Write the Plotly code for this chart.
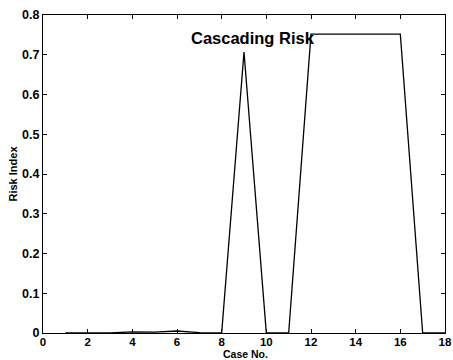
import plotly.graph_objects as go

case_no = list(range(1, 19))
risk_index = [0, 0, 0, 0.003, 0.002, 0.005, 0.001, 0, 0.707, 0, 0, 0.752, 0.752, 0.752, 0.752, 0.752, 0, 0]
x_ticks = [0, 2, 4, 6, 8, 10, 12, 14, 16, 18]
y_ticks = [0, 0.1, 0.2, 0.3, 0.4, 0.5, 0.6, 0.7, 0.8]
y_tick_labels = ["0", "0.1", "0.2", "0.3", "0.4", "0.5", "0.6", "0.7", "0.8"]

font = "Liberation Sans, Arial, sans-serif"

fig = go.Figure()
fig.add_trace(go.Scatter(x=case_no, y=risk_index, mode="lines",
                         line=dict(color="black", width=1.3), showlegend=False,
                         cliponaxis=False))

axis_common = dict(showgrid=False, zeroline=False, showline=True, linecolor="black",
                   linewidth=1.3, mirror="ticks", ticks="inside", ticklen=4,
                   tickcolor="black", tickwidth=1, automargin=False)

fig.update_xaxes(range=[0, 18], tickvals=x_ticks, ticktext=[str(t) for t in x_ticks],
                 tickfont=dict(family=font, size=11.5, color="black", weight="bold"),
                 ticklabelstandoff=-2,
                 **axis_common)
fig.update_yaxes(range=[0, 0.8], tickvals=y_ticks, ticktext=y_tick_labels,
                 tickfont=dict(family=font, size=12.5, color="black", weight="bold"),
                 title=dict(text="<b>Risk Index</b>", font=dict(family=font, size=11, color="black"), standoff=2),
                 **axis_common)

fig.add_annotation(text="<b>Case No.</b>", xref="paper", yref="paper",
                   x=(245 - 43) / 402, y=(333 - 354) / 318, xanchor="center", yanchor="middle",
                   showarrow=False, font=dict(family=font, size=10.5, color="black"))

fig.add_annotation(text="<b>Cascading Risk</b>", xref="paper", yref="paper",
                   x=(253 - 43) / 402, y=(333 - 38) / 318, xanchor="center", yanchor="middle",
                   showarrow=False, font=dict(family=font, size=16.5, color="black"))

fig.update_layout(width=453, height=360, margin=dict(l=43, r=8, t=15, b=27),
                  plot_bgcolor="white", paper_bgcolor="white")

fig.write_html("out.html")
